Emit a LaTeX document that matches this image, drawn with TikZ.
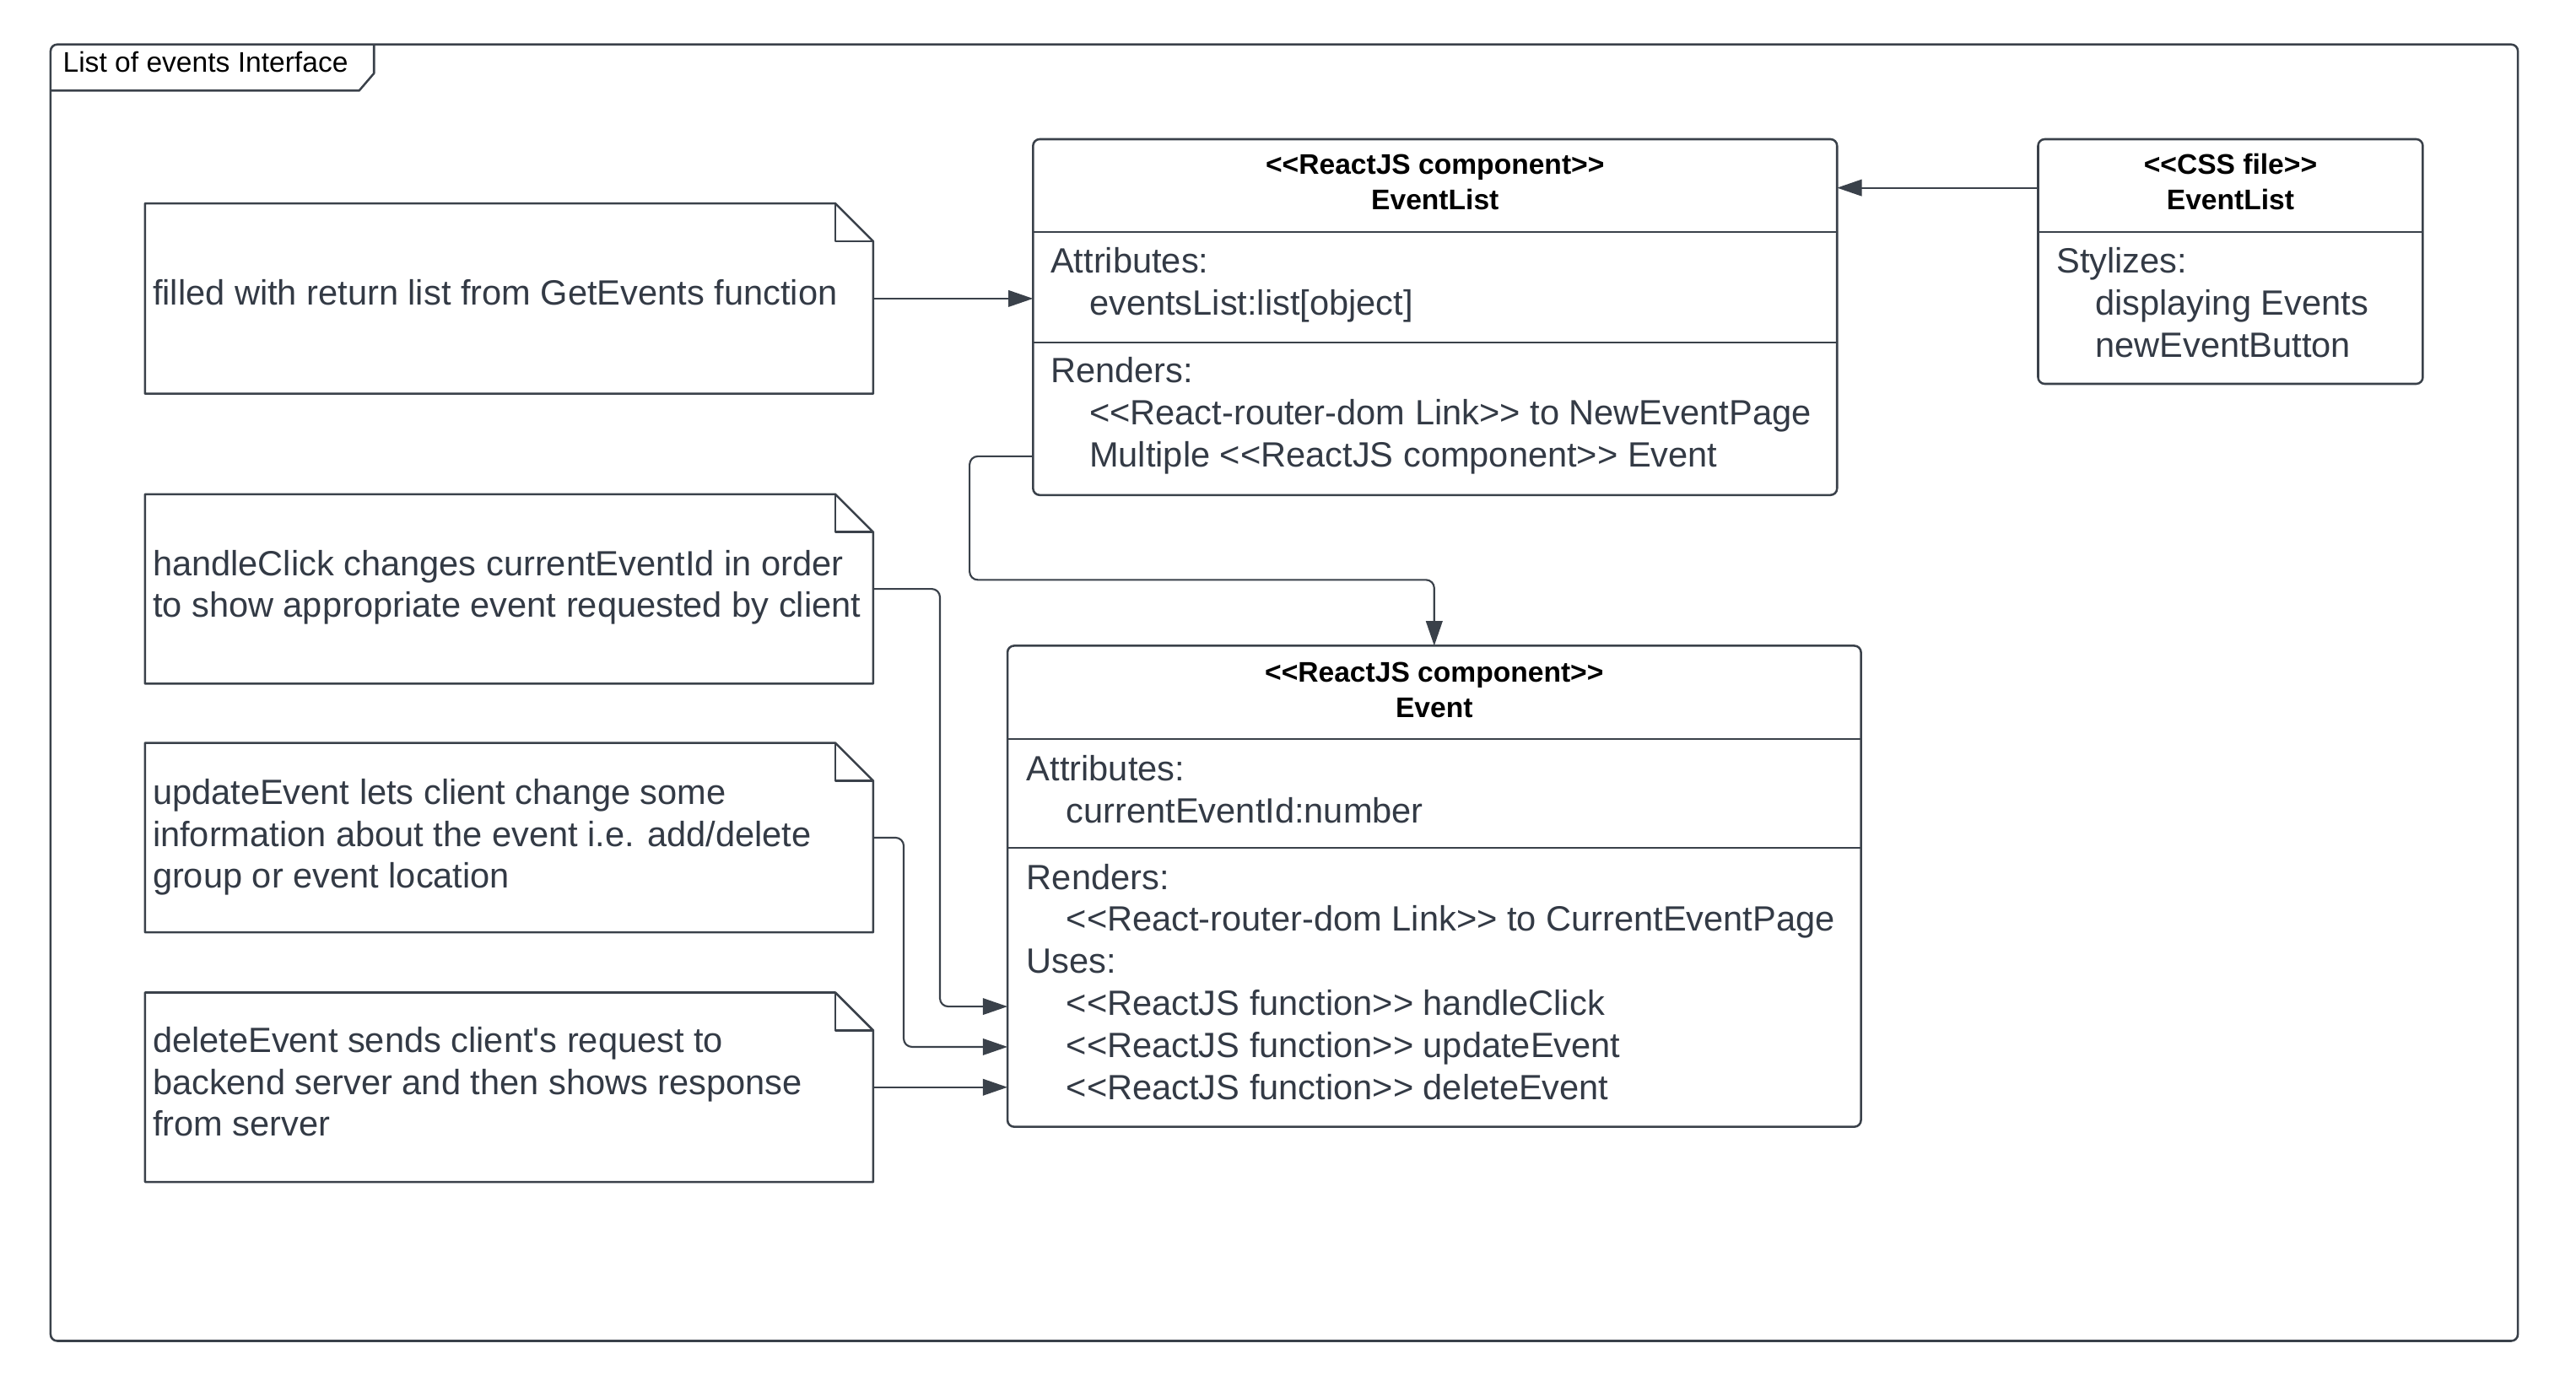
\documentclass[tikz,border=0pt]{standalone}
\usepackage{fontspec}
\setmainfont{Liberation Sans}[Ligatures=TeXOff]
\usetikzlibrary{arrows.meta}
\definecolor{lc}{HTML}{3A414A}
\definecolor{tc}{HTML}{333A45}
\newcommand\mynote[5]{%
  \node[inner sep=0pt, outer sep=0pt, minimum width={#4-#2}, minimum height={#5-#3}, anchor=north west] (#1) at (#2,#3) {};
  \draw[frame] (#1.north west) -- ([xshift=-23pt]#1.north east) -- ([yshift=-23pt]#1.north east) -- (#1.south east) -- (#1.south west) -- cycle;
  \draw[frame] ([xshift=-23pt]#1.north east) |- ([yshift=-23pt]#1.north east);
}
\begin{document}
\begin{tikzpicture}[x=1pt,y=-1pt,
  frame/.style={draw=lc, line width=1.3pt, line join=round},
  boxst/.style={draw=lc, line width=1.3pt, rounded corners=4pt, inner sep=0pt, outer sep=0pt, anchor=north west},
  sep/.style={draw=lc, line width=1.1pt},
  body/.style={font=\fontsize{21.3pt}{25.5pt}\selectfont, text=tc, inner sep=0pt, anchor=base west},
  head/.style={font=\fontsize{17.2pt}{21pt}\selectfont\bfseries, text=black, inner sep=0pt, anchor=base},
  conn/.style={draw=lc, line width=1.1pt, rounded corners=5pt, -{Triangle[length=15pt,width=10pt]}},
]
\useasboundingbox (0,0) rectangle (1563.5,838.33);

% outer frame
\node[boxst, minimum width=1497.5pt, minimum height=787pt] (frm) at (30.7,27) {};
\draw[frame] (frm.west |- 0,55) -- (218,55) -- (227,44.5) -- (227,27);
\node[anchor=base west, inner sep=0pt, font=\fontsize{17.2pt}{20pt}\selectfont] (title) at (38,44) {List of events Interface};

% notes
\mynote{n1}{88}{123.5}{530}{239}
\mynote{n2}{88}{300}{530}{415}
\mynote{n3}{88}{451}{530}{566}
\mynote{n4}{88}{602.5}{530}{717.5}

\node[body] (n1t1) at (92.5,185) {filled with return list from GetEvents function};
\node[body] (n2t1) at (92.5,349.6) {handleClick changes currentEventId in order};
\node[body] (n2t2) at (92.5,374.6) {to show appropriate event requested by client};
\node[body] (n3t1) at (92.5,488.5) {updateEvent lets client change some};
\node[body] (n3t2) at (92.5,513.8) {information about the event i.e. add/delete};
\node[body] (n3t3) at (92.5,539.1) {group or event location};
\node[body] (n4t1) at (92.5,639) {deleteEvent sends client's request to};
\node[body] (n4t2) at (92.5,664.3) {backend server and then shows response};
\node[body] (n4t3) at (92.5,689.6) {from server};

% EventList component
\node[boxst, minimum width=488pt, minimum height=216pt] (el) at (627,84.5) {};
\draw[sep] (el.west |- 0,141) -- (el.east |- 0,141);
\draw[sep] (el.west |- 0,207.8) -- (el.east |- 0,207.8);
\node[head] (elh1) at (871,105.7) {<<ReactJS component>>};
\node[head] (elh2) at (871,127.2) {EventList};
\node[body] (ela1) at (637.5,165.8) {Attributes:};
\node[body] (ela2) at (661,191.2) {eventsList:list[object]};
\node[body] (elr1) at (637.5,232.3) {Renders:};
\node[body] (elr2) at (661,257.8) {<<React-router-dom Link>> to NewEventPage};
\node[body] (elr3) at (661,283.3) {Multiple <<ReactJS component>> Event};

% CSS file
\node[boxst, minimum width=233.5pt, minimum height=148.5pt] (css) at (1237,84.5) {};
\draw[sep] (css.west |- 0,141) -- (css.east |- 0,141);
\node[head] (cssh1) at (1353.75,105.7) {<<CSS file>>};
\node[head] (cssh2) at (1353.75,127.2) {EventList};
\node[body] (css1) at (1248,165.8) {Stylizes:};
\node[body] (css2) at (1271.5,191.2) {displaying Events};
\node[body] (css3) at (1271.5,216.7) {newEventButton};

% Event component
\node[boxst, minimum width=518pt, minimum height=292pt] (ev) at (611.5,392) {};
\draw[sep] (ev.west |- 0,448.5) -- (ev.east |- 0,448.5);
\draw[sep] (ev.west |- 0,514.5) -- (ev.east |- 0,514.5);
\node[head] (evh1) at (870.5,414) {<<ReactJS component>>};
\node[head] (evh2) at (870.5,435.5) {Event};
\node[body] (eva1) at (623,474) {Attributes:};
\node[body] (eva2) at (647,499.5) {currentEventId:number};
\node[body] (evr1) at (623,539.8) {Renders:};
\node[body] (evr2) at (647,565.3) {<<React-router-dom Link>> to CurrentEventPage};
\node[body] (evu1) at (623,590.8) {Uses:};
\node[body] (evu2) at (647,616.3) {<<ReactJS function>> handleClick};
\node[body] (evu3) at (647,641.8) {<<ReactJS function>> updateEvent};
\node[body] (evu4) at (647,667.3) {<<ReactJS function>> deleteEvent};

% connector end points on the Event box
\coordinate (inhc) at (611.5,611);
\coordinate (inue) at (611.5,635.5);

% connectors
\draw[conn] (n1.east) -- (el.west |- n1.east);
\draw[conn] ([yshift=-29.5pt]css.north west) -- ([yshift=-29.5pt]el.north east);
\draw[conn] ([yshift=-192.5pt]el.north west) -| (588.5,352) -| (ev.north);
\draw[conn] (n2.east) -| (570.5,611) -- (inhc);
\draw[conn] (n3.east) -| (548.5,635.5) -- (inue);
\draw[conn] (n4.east) -- (ev.west |- n4.east);
\end{tikzpicture}
\end{document}
